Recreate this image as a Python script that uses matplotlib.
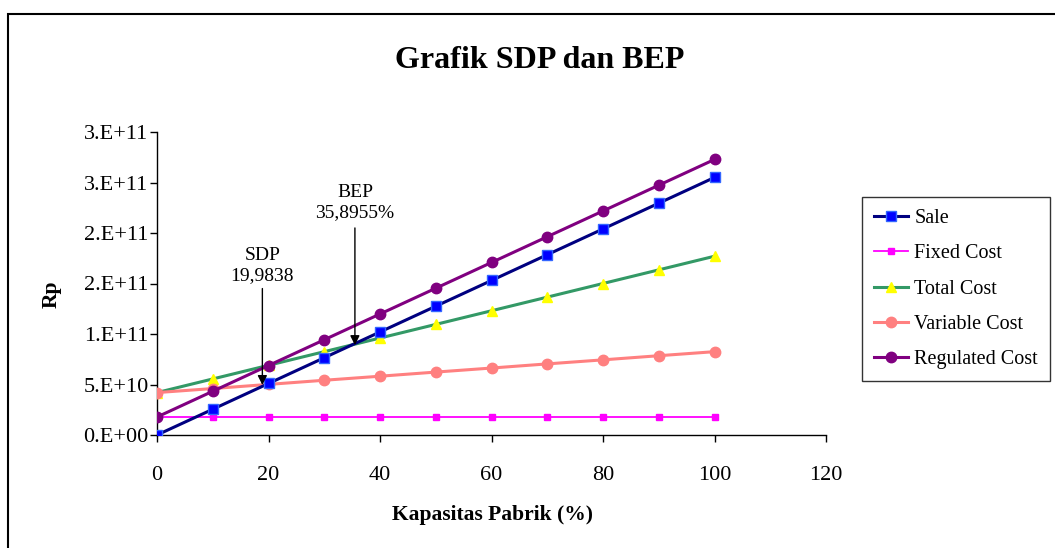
import matplotlib
matplotlib.use('agg')
import matplotlib.pyplot as plt
from matplotlib.patches import Rectangle

plt.rcParams['font.family'] = ['Liberation Serif', 'DejaVu Serif']

# data
kapasitas = [0, 10, 20, 30, 40, 50, 60, 70, 80, 90, 100]
sale = [0, 2.55e10, 5.1e10, 7.65e10, 1.02e11, 1.275e11, 1.53e11, 1.785e11, 2.04e11, 2.295e11, 2.55e11]
fixed_cost = [1.75e10] * 11
total_cost = [4.2e10, 5.55e10, 6.9e10, 8.25e10, 9.6e10, 1.095e11, 1.23e11, 1.365e11, 1.5e11, 1.635e11, 1.77e11]
variable_cost = [4.2e10, 4.6e10, 5.01e10, 5.42e10, 5.82e10, 6.23e10, 6.63e10, 7.04e10, 7.44e10, 7.85e10, 8.25e10]
regulated_cost = [1.78e10, 4.33e10, 6.88e10, 9.43e10, 1.198e11, 1.453e11, 1.708e11, 1.963e11, 2.218e11, 2.473e11, 2.728e11]

y_ticks = [0, 5e10, 1e11, 1.5e11, 2e11, 2.5e11, 3e11]
y_labels = ['0.E+00', '5.E+10', '1.E+11', '2.E+11', '2.E+11', '3.E+11', '3.E+11']
x_ticks = [0, 20, 40, 60, 80, 100, 120]

# annotation arrows: x, text centre y, arrow start y, arrow tip y
sdp_x, sdp_text_y, sdp_start_y, sdp_tip_y = 18.9, 1.68e11, 1.45e11, 4.95e10
bep_x, bep_text_y, bep_start_y, bep_tip_y = 35.5, 2.30e11, 2.05e11, 8.9e10

fig = plt.figure(figsize=(10.55, 5.48), dpi=100)
ax = fig.add_axes([157 / 1055, 1 - 435 / 548, (826 - 157) / 1055, (435 - 132) / 548])

ax.plot(kapasitas, sale, color='#000080', lw=2.2, marker='s', ms=7.5,
        mfc='#0000FF', mec='#3366FF', label='Sale', zorder=5)
ax.plot(kapasitas, fixed_cost, color='#FF00FF', lw=1.3, marker='s', ms=5,
        mfc='#FF00FF', mec='#FF00FF', label='Fixed Cost', zorder=3)
ax.plot(kapasitas, total_cost, color='#339966', lw=2.2, marker='^', ms=7.5,
        mfc='#FFFF00', mec='#FFFF00', label='Total Cost', zorder=4)
ax.plot(kapasitas, variable_cost, color='#FF8080', lw=2.2, marker='o', ms=7.5,
        mfc='#FF8080', mec='#FF8080', label='Variable Cost', zorder=4)
ax.plot(kapasitas, regulated_cost, color='#800080', lw=2.2, marker='o', ms=7.5,
        mfc='#800080', mec='#800080', label='Regulated Cost', zorder=4)

ax.set_xlim(0, 120)
ax.set_ylim(0, 3e11)
ax.set_xticks(x_ticks)
ax.set_yticks(y_ticks)
ax.set_yticklabels(y_labels)
ax.tick_params(axis='both', direction='out', length=5, width=1, labelsize=16, pad=1)
ax.tick_params(axis='x', pad=17)

for side in ['top', 'right']:
    ax.spines[side].set_visible(False)
for side in ['left', 'bottom']:
    ax.spines[side].set_linewidth(1)

ax.set_xlabel('Kapasitas Pabrik (%)', fontsize=15.5, fontweight='bold')
ax.set_ylabel('Rp', fontsize=15.5, fontweight='bold')
ax.xaxis.set_label_coords(0.502, -0.232)
ax.yaxis.set_label_coords(-0.142, 0.465)

ax.text(sdp_x, sdp_text_y, 'SDP\n19,9838', ha='center', va='center',
        fontsize=14, linespacing=1.25)
ax.annotate('', xy=(sdp_x, sdp_tip_y), xytext=(sdp_x, sdp_start_y),
            arrowprops=dict(arrowstyle='-|>', color='black', lw=1,
                            shrinkA=0, shrinkB=0, mutation_scale=14), zorder=6)
ax.text(bep_x, bep_text_y, 'BEP\n35,8955%', ha='center', va='center',
        fontsize=14, linespacing=1.25)
ax.annotate('', xy=(bep_x, bep_tip_y), xytext=(bep_x, bep_start_y),
            arrowprops=dict(arrowstyle='-|>', color='black', lw=1,
                            shrinkA=0, shrinkB=0, mutation_scale=14), zorder=6)

fig.text(540 / 1055, 1 - 60 / 548, 'Grafik SDP dan BEP', ha='center', va='center',
         fontsize=23, fontweight='bold')

leg = fig.legend(loc='upper left', bbox_to_anchor=(862 / 1055, 1 - 197 / 548),
                 frameon=True, fancybox=False, fontsize=14.5, handlelength=1.7,
                 borderpad=0.6, labelspacing=0.8, handletextpad=0.3,
                 borderaxespad=0)
leg.get_frame().set_edgecolor('black')
leg.get_frame().set_linewidth(1)

# chart area border (left and top edges visible)
fig.patches.append(Rectangle((8 / 1055, -0.05), 1.1, 1 - 14 / 548 + 0.05,
                             transform=fig.transFigure, fill=False,
                             edgecolor='black', lw=1.5, clip_on=False))

fig.savefig('out.png', dpi=100)
plt.close()
